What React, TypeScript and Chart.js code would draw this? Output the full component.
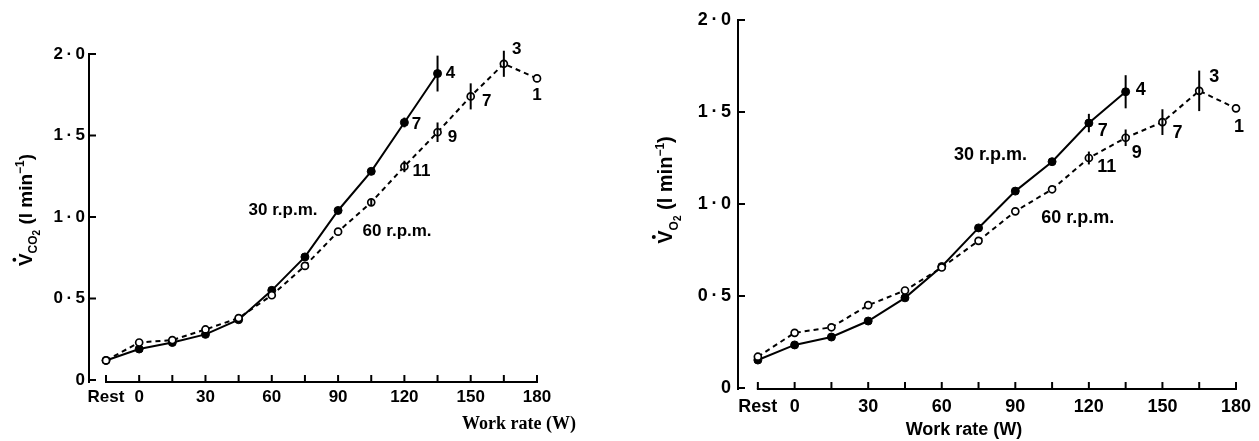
import React, { useEffect, useRef } from 'react';
import { Chart, registerables } from 'chart.js';

Chart.register(...registerables);

// ---------- data ----------
const xTickValues = [-15, 0, 15, 30, 45, 60, 75, 90, 105, 120, 135, 150, 165, 180]; // -15 = Rest
const xTickLabels = ['Rest', '0', '', '30', '', '60', '', '90', '', '120', '', '150', '', '180'];
const yTickValues = [0, 0.5, 1.0, 1.5, 2.0];
const yTickLabels = ['0', '0\u2009·\u20095', '1\u2009·\u20090', '1\u2009·\u20095', '2\u2009·\u20090'];

const rates30 = [-15, 0, 15, 30, 45, 60, 75, 90, 105, 120, 135];
const rates60 = [-15, 0, 15, 30, 45, 60, 75, 90, 105, 120, 135, 150, 165, 180];

const vco2At30 = [0.12, 0.19, 0.23, 0.28, 0.37, 0.55, 0.755, 1.04, 1.28, 1.58, 1.88];
const vco2At30Sem = [0, 0, 0, 0, 0, 0, 0.015, 0.02, 0.015, 0.03, 0.11];
const vco2At60 = [0.12, 0.23, 0.245, 0.31, 0.38, 0.52, 0.7, 0.91, 1.09, 1.31, 1.52, 1.74, 1.94, 1.85];
const vco2At60Sem = [0, 0, 0, 0, 0, 0, 0, 0, 0.02, 0.035, 0.06, 0.08, 0.08, 0];

const vo2At30 = [0.152, 0.234, 0.277, 0.364, 0.49, 0.66, 0.87, 1.07, 1.23, 1.44, 1.61];
const vo2At30Sem = [0, 0, 0, 0, 0, 0, 0, 0.015, 0, 0.05, 0.09];
const vo2At60 = [0.17, 0.3, 0.33, 0.45, 0.53, 0.655, 0.8, 0.96, 1.08, 1.25, 1.36, 1.445, 1.615, 1.52];
const vo2At60Sem = [0, 0, 0, 0, 0, 0, 0, 0, 0, 0.035, 0.045, 0.07, 0.11, 0];

// number of subjects at the last work rates
const n30 = ['', '', '', '', '', '', '', '', '', '7', '4'];
const n60 = ['', '', '', '', '', '', '', '', '', '11', '9', '7', '3', '1'];

const rpmLabels = ['30 r.p.m.', '60 r.p.m.'];
const xTitle = 'Work rate (W)';

// ---------- panel styling ----------
type Panel = {
  canvasLeft: number;
  width: number;
  xMin: number;
  padding: { left: number; top: number; right: number; bottom: number };
  yAxisWidth: number;
  xAxisHeight: number;
  tickSize: number;
  yTickPad: number;
  xTickPad: number;
  axisGap: number;
  sub: string;
  sub2: string;
  yTitleX: number;
  yTitleY: number;
  yTitleSize: number;
  xTitleFont: string;
  xTitleX: number;
  xTitleY: number;
  rpmPos: number[][];
  rpmSize: number;
  nSize: number;
  nOff30: Record<number, number[]>;
  nOff60: Record<number, number[]>;
  s30: number[];
  e30: number[];
  s60: number[];
  e60: number[];
};

const SANS = '"Liberation Sans", Arial, sans-serif';

const leftPanel: Panel = {
  canvasLeft: 0,
  width: 630,
  xMin: -22.7,
  padding: { left: 0, top: 54, right: 93, bottom: 0 },
  yAxisWidth: 89,
  xAxisHeight: 61,
  tickSize: 17,
  yTickPad: 4,
  xTickPad: 7,
  axisGap: 2,
  sub: 'CO',
  sub2: '2',
  yTitleX: 25,
  yTitleY: 210,
  yTitleSize: 19,
  xTitleFont: 'bold 18px "Liberation Serif", "Times New Roman", serif',
  xTitleX: 519,
  xTitleY: 424,
  rpmPos: [[65.1, 1.04], [116.7, 0.914]],
  rpmSize: 17,
  nSize: 17,
  nOff30: { 9: [12, 2], 10: [13, 0] },
  nOff60: { 9: [17, 5], 10: [15, 5], 11: [16, 5], 12: [13, -14], 13: [0, 17] },
  s30: vco2At30,
  e30: vco2At30Sem,
  s60: vco2At60,
  e60: vco2At60Sem,
};

const rightPanel: Panel = {
  canvasLeft: 630,
  width: 629,
  xMin: -23.1,
  padding: { left: 0, top: 20, right: 20, bottom: 0 },
  yAxisWidth: 108,
  xAxisHeight: 53,
  tickSize: 18,
  yTickPad: 7,
  xTickPad: 8,
  axisGap: 1,
  sub: 'O',
  sub2: '2',
  yTitleX: 35,
  yTitleY: 190,
  yTitleSize: 20,
  xTitleFont: `bold 18px ${SANS}`,
  xTitleX: 334,
  xTitleY: 430,
  rpmPos: [[79.9, 1.266], [115.5, 0.924]],
  rpmSize: 18,
  nSize: 18,
  nOff30: { 9: [14, 8], 10: [15, -2] },
  nOff60: { 9: [18, 9], 10: [11, 15], 11: [15, 11], 12: [15, -14], 13: [3, 19] },
  s30: vo2At30,
  e30: vo2At30Sem,
  s60: vo2At60,
  e60: vo2At60Sem,
};

function drawYTitle(ctx: CanvasRenderingContext2D, p: Panel) {
  const size = p.yTitleSize;
  const big = `bold ${size}px ${SANS}`;
  const small = `bold ${Math.round(size * 0.62)}px ${SANS}`;
  const tiny = `bold ${Math.round(size * 0.5)}px ${SANS}`;
  const segs = [
    { t: 'V', f: big, dy: 0 },
    { t: p.sub, f: small, dy: size * 0.28 },
    { t: p.sub2, f: tiny, dy: size * 0.42 },
    { t: ' (l min', f: big, dy: 0 },
    { t: '\u22121', f: small, dy: -size * 0.42 },
    { t: ')', f: big, dy: 0 },
  ];
  ctx.save();
  ctx.translate(p.yTitleX, p.yTitleY);
  ctx.rotate(-Math.PI / 2);
  ctx.fillStyle = '#000';
  ctx.textBaseline = 'alphabetic';
  ctx.textAlign = 'left';
  let total = 0;
  const widths = segs.map((s) => {
    ctx.font = s.f;
    const w = ctx.measureText(s.t).width;
    total += w;
    return w;
  });
  let x = -total / 2;
  const base = size * 0.36;
  segs.forEach((s, i) => {
    ctx.font = s.f;
    ctx.fillText(s.t, x, base + s.dy);
    if (i === 0) {
      ctx.beginPath();
      ctx.arc(x + widths[0] / 2, base - size * 0.92, size * 0.1, 0, Math.PI * 2);
      ctx.fill();
    }
    x += widths[i];
  });
  ctx.restore();
}

function makeDecorPlugin(p: Panel) {
  return {
    id: 'decor',
    afterDatasetsDraw(chart: any) {
      const ctx: CanvasRenderingContext2D = chart.ctx;
      const xs = chart.scales.x;
      const ys = chart.scales.y;
      const area = chart.chartArea;
      ctx.save();
      ctx.strokeStyle = '#000';
      ctx.fillStyle = '#000';
      ctx.lineWidth = 2;
      ctx.lineCap = 'butt';
      // y axis
      const yTop = ys.getPixelForValue(yTickValues[yTickValues.length - 1]);
      const y0 = ys.getPixelForValue(0);
      const xAxisY = y0 + p.axisGap;
      ctx.beginPath();
      ctx.moveTo(area.left, yTop - 1);
      ctx.lineTo(area.left, xAxisY + 1);
      ctx.stroke();
      yTickValues.forEach((v) => {
        const py = ys.getPixelForValue(v);
        ctx.beginPath();
        ctx.moveTo(area.left, py);
        ctx.lineTo(area.left + 7, py);
        ctx.stroke();
      });
      // x axis
      const xStart = xs.getPixelForValue(xTickValues[0]);
      const xEnd = xs.getPixelForValue(xTickValues[xTickValues.length - 1]);
      ctx.beginPath();
      ctx.moveTo(xStart - 1, xAxisY);
      ctx.lineTo(xEnd + 1, xAxisY);
      ctx.stroke();
      xTickValues.forEach((v) => {
        const px = xs.getPixelForValue(v);
        ctx.beginPath();
        ctx.moveTo(px, xAxisY);
        ctx.lineTo(px, xAxisY - 7);
        ctx.stroke();
      });
      // error bars
      const bars = (rates: number[], vals: number[], errs: number[]) => {
        rates.forEach((r, i) => {
          if (!errs[i]) return;
          const px = xs.getPixelForValue(r);
          ctx.beginPath();
          ctx.moveTo(px, ys.getPixelForValue(vals[i] + errs[i]));
          ctx.lineTo(px, ys.getPixelForValue(vals[i] - errs[i]));
          ctx.stroke();
        });
      };
      bars(rates30, p.s30, p.e30);
      bars(rates60, p.s60, p.e60);
      // n labels
      ctx.font = `bold ${p.nSize}px ${SANS}`;
      ctx.textAlign = 'center';
      ctx.textBaseline = 'middle';
      const nl = (dsIndex: number, labels: string[], offs: Record<number, number[]>) => {
        const meta = chart.getDatasetMeta(dsIndex);
        labels.forEach((t, i) => {
          if (!t) return;
          const el = meta.data[i];
          const o = offs[i] || [12, 0];
          ctx.fillText(t, el.x + o[0], el.y + o[1]);
        });
      };
      nl(1, n30, p.nOff30);
      nl(0, n60, p.nOff60);
      // rpm labels
      ctx.font = `bold ${p.rpmSize}px ${SANS}`;
      rpmLabels.forEach((t, i) => {
        ctx.fillText(t, xs.getPixelForValue(p.rpmPos[i][0]), ys.getPixelForValue(p.rpmPos[i][1]));
      });
      // x title
      ctx.font = p.xTitleFont;
      ctx.fillText(xTitle, p.xTitleX, p.xTitleY);
      ctx.restore();
      drawYTitle(ctx, p);
    },
  };
}

function PanelChart({ p }: { p: Panel }) {
  const ref = useRef<HTMLCanvasElement | null>(null);
  useEffect(() => {
    if (!ref.current) return;
    const chart = new Chart(ref.current, {
      type: 'line',
      data: {
        datasets: [
          {
            label: '60 r.p.m.',
            data: rates60.map((r, i) => ({ x: r, y: p.s60[i] })),
            borderColor: '#000',
            borderWidth: 2,
            borderDash: [5, 4],
            pointRadius: 3.5,
            pointBackgroundColor: '#fff',
            pointBorderColor: '#000',
            pointBorderWidth: 1.7,
            tension: 0,
            clip: false as any,
          },
          {
            label: '30 r.p.m.',
            data: rates30.map((r, i) => ({ x: r, y: p.s30[i] })),
            borderColor: '#000',
            borderWidth: 2,
            pointRadius: 4,
            pointBackgroundColor: '#000',
            pointBorderColor: '#000',
            pointBorderWidth: 1,
            tension: 0,
            clip: false as any,
          },
        ],
      },
      options: {
        animation: false,
        responsive: false,
        maintainAspectRatio: false,
        layout: { padding: p.padding },
        plugins: { legend: { display: false }, title: { display: false }, tooltip: { enabled: false } },
        events: [],
        scales: {
          x: {
            type: 'linear',
            min: p.xMin,
            max: 180,
            grid: { display: false, drawTicks: false },
            border: { display: false },
            afterBuildTicks: (s: any) => {
              s.ticks = xTickValues.map((v) => ({ value: v }));
            },
            afterFit: (s: any) => {
              s.height = p.xAxisHeight;
            },
            ticks: {
              autoSkip: false,
              maxRotation: 0,
              minRotation: 0,
              padding: p.xTickPad,
              color: '#000',
              font: { family: SANS, size: p.tickSize, weight: 'bold' },
              callback: (_v: any, i: number) => xTickLabels[i],
            },
          },
          y: {
            type: 'linear',
            min: 0,
            max: 2,
            grid: { display: false, drawTicks: false },
            border: { display: false },
            afterBuildTicks: (s: any) => {
              s.ticks = yTickValues.map((v) => ({ value: v }));
            },
            afterFit: (s: any) => {
              s.width = p.yAxisWidth;
            },
            ticks: {
              autoSkip: false,
              padding: p.yTickPad,
              color: '#000',
              font: { family: SANS, size: p.tickSize, weight: 'bold' },
              callback: (_v: any, i: number) => yTickLabels[i],
            },
          },
        },
      } as any,
      plugins: [makeDecorPlugin(p)],
    });
    return () => chart.destroy();
  }, [p]);
  return (
    <canvas
      ref={ref}
      width={p.width}
      height={441}
      style={{ position: 'absolute', left: p.canvasLeft, top: 0, width: p.width, height: 441 }}
    />
  );
}

export default function App() {
  return (
    <div style={{ position: 'absolute', left: 0, top: 0, width: 1259, height: 441, background: '#fff' }}>
      <PanelChart p={leftPanel} />
      <PanelChart p={rightPanel} />
    </div>
  );
}
